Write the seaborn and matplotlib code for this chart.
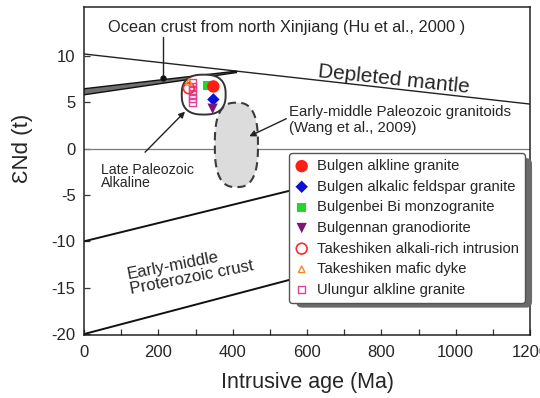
import numpy as np
import pandas as pd
import matplotlib
matplotlib.use("Agg")
import matplotlib.pyplot as plt
from matplotlib.patches import Polygon, FancyBboxPatch
from matplotlib.transforms import IdentityTransform
import seaborn as sns

sns.set_theme(style="white")
plt.rcParams["font.family"] = ["Liberation Sans", "DejaVu Sans"]
plt.rcParams["axes.unicode_minus"] = False

# ---- sample data: intrusive age (Ma) and eNd(t) ----
groups = [
    "Bulgen alkline granite",
    "Bulgen alkalic feldspar granite",
    "Bulgenbei Bi monzogranite",
    "Bulgennan granodiorite",
    "Takeshiken alkali-rich intrusion",
    "Takeshiken mafic dyke",
    "Ulungur alkline granite",
]
age_bulgen = [348]
end_bulgen = [6.7]
age_feldspar = [348]
end_feldspar = [5.3]
age_bulgenbei = [333]
end_bulgenbei = [6.8]
age_bulgennan = [346]
end_bulgennan = [4.3]
age_takeshiken = [282]
end_takeshiken = [6.5]
age_dyke = [282]
end_dyke = [7.2]
age_ulungur = [292, 292, 292, 292, 292, 292]
end_ulungur = [7.1, 6.7, 6.25, 5.8, 5.4, 4.95]

# reference evolution lines (age Ma, eNd)
dm_age = [0, 1200]
dm_end = [10.2, 4.8]
crust_upper_age = [0, 700]
crust_upper_end = [-10.0, -3.1]
crust_lower_age = [0, 1050]
crust_lower_end = [-20.0, -8.9]
ocean_age = [0, 410]
ocean_top = [6.45, 8.35]
ocean_bot = [5.8, 8.2]

x_ticks = [0, 200, 400, 600, 800, 1000, 1200]
y_ticks = [-20, -15, -10, -5, 0, 5, 10]

TXT = "#262626"

fig = plt.figure(figsize=(5.4, 3.98), dpi=100)
ax = fig.add_axes([0.1556, 0.1583, 0.8259, 0.8249])

# horizontal zero line
ax.axhline(0, color="#7a7a7a", lw=0.9, zorder=1)

# depleted mantle and crustal lines
sns.lineplot(x=dm_age, y=dm_end, ax=ax, color="#222222", lw=1.0, zorder=2)
sns.lineplot(x=crust_upper_age, y=crust_upper_end, ax=ax, color="#111111", lw=1.4, zorder=2)
sns.lineplot(x=crust_lower_age, y=crust_lower_end, ax=ax, color="#111111", lw=1.4, zorder=2)

# ocean crust band
band = np.column_stack([ocean_age + ocean_age[::-1], ocean_top + ocean_bot[::-1]])
ax.add_patch(Polygon(band, closed=True, fc="#6e6e6e", ec="#111111", lw=1.0, zorder=3))
ax.plot([213, 213], [12.0, 7.65], color="#222222", lw=1.0, zorder=3)
ax.plot([213], [7.65], "o", color="#111111", ms=3.5, zorder=4)


def superellipse(cx, cy, a, b, n, n_pts=200):
    t = np.linspace(0, 2 * np.pi, n_pts)
    c, s = np.cos(t), np.sin(t)
    x = cx + a * np.sign(c) * np.abs(c) ** (2.0 / n)
    y = cy + b * np.sign(s) * np.abs(s) ** (2.0 / n)
    return np.column_stack([x, y])


# early-middle Paleozoic granitoid field
ax.add_patch(Polygon(superellipse(410, 0.4, 58, 4.55, 2.7), closed=True,
                     fc="#dcdcdc", ec="#3c3c3c", lw=1.5, ls=(0, (4, 2.5)), zorder=3))
# late Paleozoic alkaline field
ax.add_patch(Polygon(superellipse(322, 5.82, 59, 2.15, 2.6), closed=True,
                     fc="white", ec="#333333", lw=1.4, zorder=3))

# samples
kw = dict(ax=ax, zorder=6)
sns.scatterplot(x=age_ulungur, y=end_ulungur, marker="s", s=24, facecolor="none",
                edgecolor="#e0409a", linewidth=1.0, label=groups[6], **kw)
sns.scatterplot(x=age_bulgenbei, y=end_bulgenbei, marker="s", s=42, color="#22d62a",
                edgecolor="none", label=groups[2], **kw)
sns.scatterplot(x=age_bulgen, y=end_bulgen, marker="o", s=80, color="#ff1e12",
                edgecolor="none", label=groups[0], **kw)
sns.scatterplot(x=age_feldspar, y=end_feldspar, marker="D", s=40, color="#0a10d8",
                edgecolor="none", label=groups[1], **kw)
sns.scatterplot(x=age_bulgennan, y=end_bulgennan, marker="v", s=55, color="#7d1478",
                edgecolor="none", label=groups[3], **kw)
sns.scatterplot(x=age_takeshiken, y=end_takeshiken, marker="o", s=60, facecolor="none",
                edgecolor="#ff2a2a", linewidth=1.2, label=groups[4], **kw)
sns.scatterplot(x=age_dyke, y=end_dyke, marker="^", s=22, facecolor="none",
                edgecolor="#f08a24", linewidth=1.0, label=groups[5], **kw)

# annotations
ax.text(65, 13.1, "Ocean crust from north Xinjiang (Hu et al., 2000 )", fontsize=11.8,
        color=TXT, va="center", ha="left")
ax.text(834, 7.4, "Depleted mantle", fontsize=15, color=TXT, rotation=-6,
        rotation_mode="anchor", ha="center", va="center")
ax.text(552, 3.1, "Early-middle Paleozoic granitoids\n(Wang et al., 2009)", fontsize=10.8,
        color=TXT, ha="left", va="center", linespacing=1.15)
ax.annotate("", xy=(438, 1.2), xytext=(551, 3.35),
            arrowprops=dict(arrowstyle="-|>", color="#222222", lw=1.0, mutation_scale=9))
ax.text(45, -1.55, "Late Paleozoic\nAlkaline", fontsize=10.2, color=TXT, ha="left",
        va="top", linespacing=0.95)
ax.annotate("", xy=(277, 4.2), xytext=(159, -0.6),
            arrowprops=dict(arrowstyle="-|>", color="#222222", lw=1.0, mutation_scale=9))
ax.text(285, -13.1, "Early-middle\nProterozoic crust", fontsize=12, color=TXT, rotation=11,
        rotation_mode="anchor", ha="center", va="center", multialignment="left",
        linespacing=1.05)

# axes
ax.set_xlim(0, 1200)
ax.set_ylim(-20.1, 15.3)
ax.set_xticks(x_ticks)
ax.set_xticks(np.arange(0, 1201, 100), minor=True)
ax.set_yticks(y_ticks)
ax.tick_params(axis="both", which="both", direction="in", length=4.5, width=0.9,
               color="#333333", labelsize=12, labelcolor=TXT, left=True, bottom=True,
               top=False, right=False)
ax.tick_params(axis="x", pad=7)
ax.tick_params(axis="y", pad=6)
for sp in ax.spines.values():
    sp.set_color("#222222")
    sp.set_linewidth(1.1)
ax.set_xlabel("Intrusive age (Ma)", fontsize=15.5, color=TXT, labelpad=9)
ax.set_ylabel("ƐNd (t)", fontsize=16, color=TXT)
ax.yaxis.set_label_coords(-0.114, 0.567)

# legend in group order
handles, labels = ax.get_legend_handles_labels()
order = [labels.index(g) for g in groups]
leg = ax.legend([handles[i] for i in order], [labels[i] for i in order],
                loc="upper left", bbox_to_anchor=(0.46, 0.554), borderaxespad=0,
                fontsize=10.6, frameon=True, fancybox=True, edgecolor="#555555",
                framealpha=1, labelspacing=0.45, handlelength=0.9, handletextpad=0.6,
                borderpad=0.4, labelcolor=TXT)
leg.get_frame().set_linewidth(1.0)
leg.set_zorder(8)

# drop shadow behind the legend frame
fig.canvas.draw()
bb = leg.get_frame().get_window_extent()
shadow = FancyBboxPatch((bb.x0 + 7, bb.y0 - 5), bb.width, bb.height,
                        boxstyle="round,pad=0,rounding_size=6", transform=IdentityTransform(),
                        fc="#6a6a6a", ec="none", zorder=7, clip_on=False)
ax.add_artist(shadow)

fig.savefig("out.png", dpi=100)
